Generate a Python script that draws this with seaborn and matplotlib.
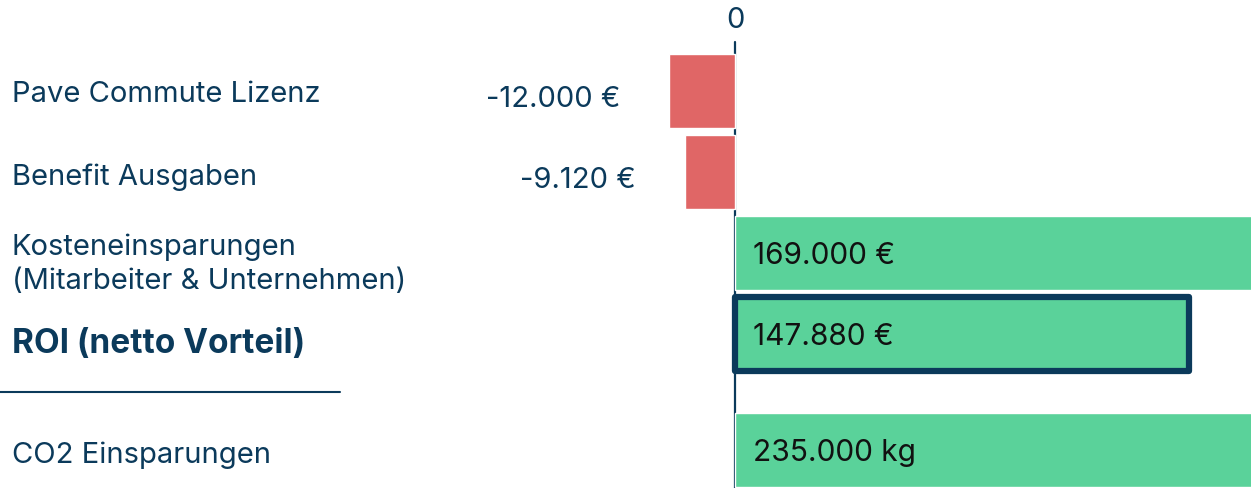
"""Savings waterfall-style bar chart (horizontal, diverging at zero)."""

import matplotlib.pyplot as plt
import numpy as np
import pandas as pd
import seaborn as sns
from matplotlib.lines import Line2D
from matplotlib.transforms import blended_transform_factory

# --- data -------------------------------------------------------------
categories = [
    "Pave Commute Lizenz",
    "Benefit Ausgaben",
    "Kosteneinsparungen\n(Mitarbeiter & Unternehmen)",
    "ROI (netto Vorteil)",
    "CO2 Einsparungen",
]
values = [-12000, -9120, 169000, 147880, 235000]
value_labels = ["-12.000 €", "-9.120 €", "169.000 €", "147.880 €", "235.000 kg"]

# --- layout / style ---------------------------------------------------
row_pos = [0, 1, 2, 3, 4.43]
label_dy = [0.04, 0.07, 0.14, 0.12, 0.06]
NAVY = "#0b3a5b"
RED = "#e06666"
GREEN = "#5ad29a"
FONT = ["Inter", "DejaVu Sans"]
NEG_SCALE = 1.8  # negative costs are stretched so they stay readable

sns.set_theme(style="white")
plt.rcParams["font.family"] = FONT

df = pd.DataFrame(
    {
        "value": values,
        "pos": row_pos,
        "sign": ["neg" if v < 0 else "pos" for v in values],
    }
)

fig = plt.figure(figsize=(12.51, 4.88), dpi=100)
ax = fig.add_axes([0, 0, 1, 1])

ax.set_xscale(
    "function",
    functions=(
        lambda x: np.where(x < 0, x * NEG_SCALE, x),
        lambda x: np.where(x < 0, x / NEG_SCALE, x),
    ),
)

sns.barplot(
    data=df,
    x="value",
    y="pos",
    hue="sign",
    palette={"neg": RED, "pos": GREEN},
    orient="h",
    native_scale=True,
    dodge=False,
    width=0.92,
    saturation=1,
    legend=False,
    ax=ax,
    zorder=2,
)

ax.set_xlim(-132950, 168000)
ax.set_ylim(4.90, -1.123)
ax.axis("off")

# highlight the ROI bar
roi_value = values[3]
for patch in ax.patches:
    if abs(patch.get_width() - roi_value) < 1:
        patch.set_edgecolor(NAVY)
        patch.set_linewidth(4.5)
        patch.set_joinstyle("round")
        patch.set_zorder(3)

# zero line and its label
ax.axvline(0, ymin=0, ymax=0.914, color=NAVY, lw=1.6, zorder=1)
ax.text(0, 0.958, "0", transform=blended_transform_factory(ax.transData, ax.transAxes),
        ha="center", va="center", fontsize=21, color=NAVY)

# category labels on the left
label_tr = blended_transform_factory(ax.transAxes, ax.transData)
for i, (cat, pos, dy) in enumerate(zip(categories, row_pos, label_dy)):
    bold = i == 3
    ax.text(0.0095, pos + dy, cat, transform=label_tr, ha="left", va="center",
            fontsize=24 if bold else 21, fontweight="bold" if bold else "normal",
            color=NAVY, linespacing=1.3)

# value labels
for val, lab, pos in zip(values, value_labels, row_pos):
    if val < 0:
        ax.annotate(lab, (val, pos + 0.1), xytext=(-35, 0), textcoords="offset points",
                    ha="right", va="center", fontsize=21, color=NAVY)
    else:
        ax.annotate(lab, (0, pos + 0.04), xytext=(13, 0), textcoords="offset points",
                    ha="left", va="center", fontsize=21.5, color="#111111", zorder=4)

# separator under the ROI row
fig.add_artist(Line2D([0, 0.272], [1 - 392 / 488] * 2, color=NAVY, lw=1.5,
                      transform=fig.transFigure))

fig.savefig("out.png", dpi=100)
plt.close(fig)
